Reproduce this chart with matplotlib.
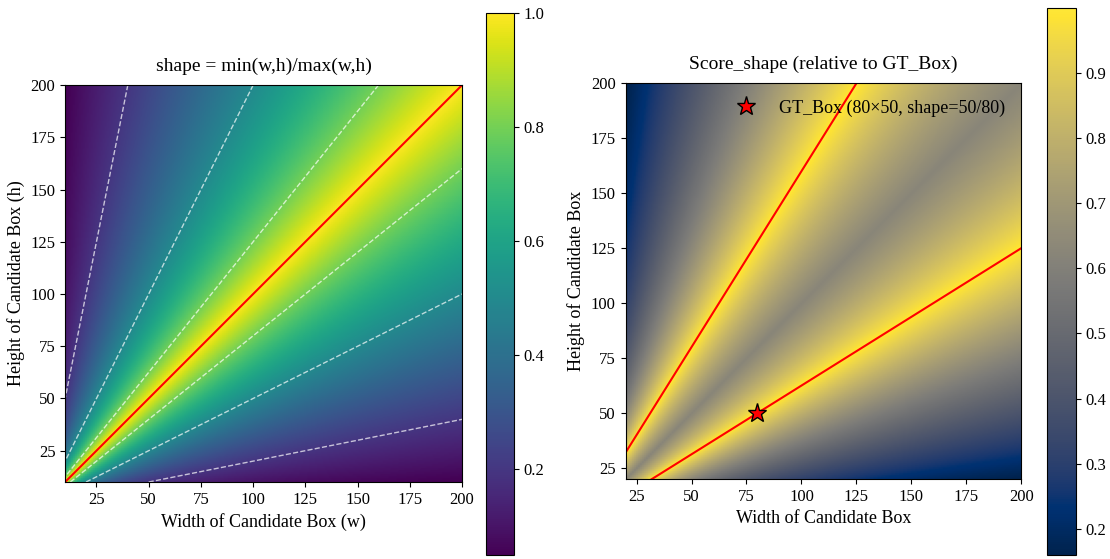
import numpy as np
import matplotlib
matplotlib.use('Agg')
import matplotlib.pyplot as plt

plt.rcParams['font.family'] = ['Liberation Serif', 'DejaVu Serif']

# box size grids
w_range_left = [10, 200]
w_range_right = [20, 200]
grid_n = 200
contour_levels = [0.2, 0.5, 0.8]

# ground truth box
gt_w = 80
gt_h = 50
gt_label = 'GT_Box (80×50, shape=50/80)'


def shape_of(w, h):
    return np.minimum(w, h) / np.maximum(w, h)


fig = plt.figure(figsize=(11.1, 5.59), dpi=100)

# left: shape itself
ax1 = fig.add_axes([0.0586, 0.1377, 0.3577, 0.710])
cax1 = fig.add_axes([0.4378, 0.0072, 0.0252, 0.9696])
w = np.linspace(w_range_left[0], w_range_left[1], grid_n)
W, H = np.meshgrid(w, w)
S = shape_of(W, H)
im1 = ax1.imshow(S, origin='lower', cmap='viridis', aspect='equal',
                 extent=[w[0], w[-1], w[0], w[-1]])
ax1.contour(W, H, S, levels=contour_levels, colors='white',
            linestyles='--', linewidths=1, alpha=0.7)
ax1.plot(w, w, color='red', linewidth=1.5)
ax1.set_xlim(w[0], w[-1])
ax1.set_ylim(w[0], w[-1])
ax1.set_xticks([25, 50, 75, 100, 125, 150, 175, 200])
ax1.set_yticks([25, 50, 75, 100, 125, 150, 175, 200])
ax1.set_title('shape = min(w,h)/max(w,h)', fontsize=14, pad=10)
ax1.set_xlabel('Width of Candidate Box (w)', fontsize=13)
ax1.set_ylabel('Height of Candidate Box (h)', fontsize=13)
ax1.tick_params(labelsize=12)
cb1 = fig.colorbar(im1, cax=cax1)
cb1.ax.tick_params(labelsize=12)

# right: score relative to GT shape
ax2 = fig.add_axes([0.563, 0.1431, 0.3577, 0.708])
cax2 = fig.add_axes([0.9432, 0.0072, 0.026, 0.9785])
w2 = np.linspace(w_range_right[0], w_range_right[1], grid_n)
W2, H2 = np.meshgrid(w2, w2)
gt_shape = shape_of(gt_w, gt_h)
S2 = shape_of(W2, H2)
score = np.minimum(S2, gt_shape) / np.maximum(S2, gt_shape)
im2 = ax2.imshow(score, origin='lower', cmap='cividis', aspect='equal',
                 extent=[w2[0], w2[-1], w2[0], w2[-1]])
ax2.plot(w2, w2 * gt_shape, color='red', linewidth=1.5)
ax2.plot(w2, w2 / gt_shape, color='red', linewidth=1.5)
ax2.plot([gt_w], [gt_h], marker='*', color='red', markeredgecolor='black',
         markersize=14, linestyle='none', label=gt_label)
ax2.set_xlim(w2[0], w2[-1])
ax2.set_ylim(w2[0], w2[-1])
ax2.set_xticks([25, 50, 75, 100, 125, 150, 175, 200])
ax2.set_yticks([25, 50, 75, 100, 125, 150, 175, 200])
ax2.set_title('Score_shape (relative to GT_Box)', fontsize=14, pad=10)
ax2.set_xlabel('Width of Candidate Box', fontsize=13)
ax2.set_ylabel('Height of Candidate Box', fontsize=13)
ax2.tick_params(labelsize=12)
ax2.legend(loc='upper right', frameon=False, fontsize=13)
cb2 = fig.colorbar(im2, cax=cax2)
cb2.ax.tick_params(labelsize=12)

fig.savefig('out.png', dpi=100)
